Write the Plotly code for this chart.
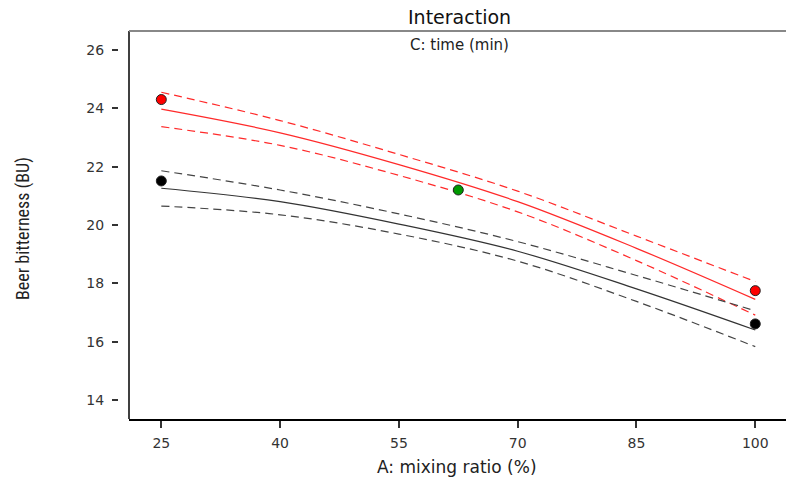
import plotly.graph_objects as go

# Data
x_grid = [25, 40, 55, 70, 85, 100]
red_fit = [23.97, 23.16, 22.07, 20.80, 19.20, 17.45]
red_upper = [24.55, 23.58, 22.42, 21.16, 19.62, 18.06]
red_lower = [23.37, 22.73, 21.70, 20.45, 18.78, 16.91]
black_fit = [21.26, 20.80, 20.03, 19.10, 17.81, 16.40]
black_upper = [21.86, 21.20, 20.38, 19.43, 18.27, 17.06]
black_lower = [20.65, 20.35, 19.69, 18.76, 17.38, 15.83]

red_pts_x = [25, 100]
red_pts_y = [24.30, 17.75]
black_pts_x = [25, 100]
black_pts_y = [21.51, 16.61]
green_pts_x = [62.5]
green_pts_y = [21.20]

x_ticks = [25, 40, 55, 70, 85, 100]
y_ticks = [14, 16, 18, 20, 22, 24, 26]

RED = "#ff2a2a"
BLK = "#333333"
DASH = "8px,5px"

fig = go.Figure()

def line(y, color, dash=None, width=1.2):
    fig.add_trace(go.Scatter(
        x=x_grid, y=y, mode="lines",
        line=dict(color=color, width=width, dash=dash or "solid", shape="spline", smoothing=1.0),
        showlegend=False, hoverinfo="skip"))

line(red_upper, RED, DASH)
line(red_lower, RED, DASH)
line(red_fit, RED)
line(black_upper, "#444444", DASH)
line(black_lower, "#444444", DASH)
line(black_fit, BLK)

def pts(x, y, color):
    fig.add_trace(go.Scatter(
        x=x, y=y, mode="markers",
        marker=dict(color=color, size=10, line=dict(color="#222222", width=1)),
        showlegend=False))

pts(red_pts_x, red_pts_y, "#ff0000")
pts(black_pts_x, black_pts_y, "#000000")
pts(green_pts_x, green_pts_y, "#009900")

W, H = 786, 478
ML, MR, MT, MB = 118, 0, 31, 59
plot_w = W - ML - MR
plot_h = H - MT - MB
dom0 = (129 - ML) / plot_w

tickfont = dict(family="DejaVu Sans", size=14, color="#333333")

fig.update_layout(
    width=W, height=H,
    margin=dict(l=ML, r=MR, t=MT, b=MB),
    paper_bgcolor="white", plot_bgcolor="white",
    xaxis=dict(
        domain=[dom0, 1], range=[20.92, 103.88],
        tickvals=x_ticks, ticktext=[str(v) for v in x_ticks],
        ticks="outside", ticklen=7, tickwidth=1.5, tickcolor="#333333",
        showline=True, linecolor="#000000", linewidth=1.5,
        showgrid=False, zeroline=False, tickfont=tickfont,
        ticklabelstandoff=3,
    ),
    yaxis=dict(
        range=[13.35, 26.65], anchor="free", position=0,
        tickvals=y_ticks, ticktext=[str(v) for v in y_ticks],
        ticks="outside", ticklen=6, tickwidth=1.5, tickcolor="#333333",
        showline=False, showgrid=False, zeroline=False, tickfont=tickfont,
        ticklabelstandoff=5,
    ),
    shapes=[
        dict(type="line", xref="x domain", yref="y domain", x0=0, x1=0, y0=0, y1=1,
             line=dict(color="#000000", width=1.5)),
        dict(type="line", xref="x domain", yref="y domain", x0=0, x1=1, y0=1, y1=1,
             line=dict(color="#888888", width=2)),
    ],
    annotations=[
        dict(text="Interaction", xref="paper", yref="paper", x=(459 - ML) / plot_w,
             y=1 + (MT - 17) / plot_h, xanchor="center", yanchor="middle",
             showarrow=False, font=dict(family="DejaVu Sans", size=19, color="#111111")),
        dict(text="C: time (min)", xref="paper", yref="paper", x=(459 - ML) / plot_w,
             y=1 - (45 - MT) / plot_h, xanchor="center", yanchor="middle",
             showarrow=False, font=dict(family="DejaVu Sans", size=15, color="#222222")),
        dict(text="A: mixing ratio (%)", xref="paper", yref="paper", x=(457 - ML) / plot_w,
             y=-(467 - (H - MB)) / plot_h, xanchor="center", yanchor="middle",
             showarrow=False, font=dict(family="DejaVu Sans", size=17, color="#222222")),
        dict(text="Beer bitterness (BU)", xref="paper", yref="paper", x=-(ML - 23) / plot_w,
             y=1 - (228 - MT) / plot_h, xanchor="center", yanchor="middle",
             textangle=-90, showarrow=False,
             font=dict(family="Liberation Sans Narrow, Roboto Condensed, Liberation Sans", size=18, color="#222222")),
    ],
)

fig.write_html("out.html")
